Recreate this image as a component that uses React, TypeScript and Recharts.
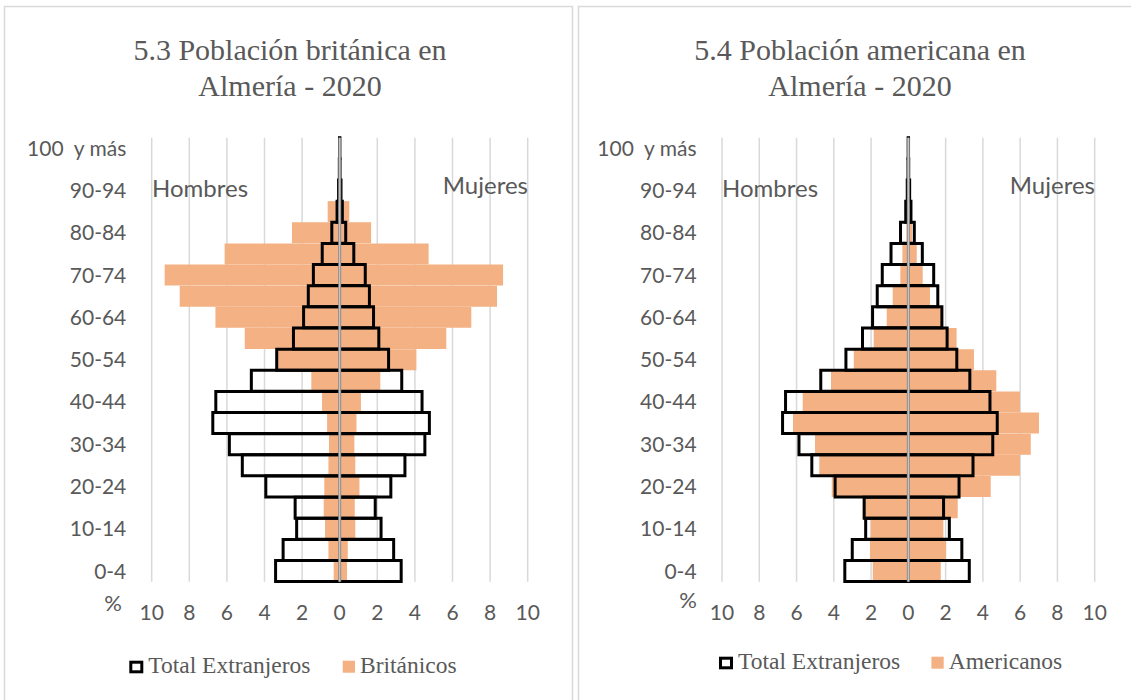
import { BarChart, Bar, XAxis, YAxis, CartesianGrid, ReferenceLine } from 'recharts';

// age groups, bottom to top
const AGES = [
  '0-4', '5-9', '10-14', '15-19', '20-24', '25-29', '30-34', '35-39', '40-44', '45-49',
  '50-54', '55-59', '60-64', '65-69', '70-74', '75-79', '80-84', '85-89', '90-94', '95-99', '100  y más',
];

// % of each population, men on the left, women on the right
const TOTAL_HOMBRES = [3.41, 3.01, 2.29, 2.37, 3.93, 5.18, 5.87, 6.75, 6.59, 4.7, 3.35, 2.46, 1.92, 1.67, 1.4, 0.93, 0.42, 0.14, 0.06, 0.02, 0.01];
const TOTAL_MUJERES = [3.27, 2.87, 2.2, 1.89, 2.72, 3.47, 4.53, 4.77, 4.38, 3.3, 2.6, 2.08, 1.8, 1.58, 1.36, 0.75, 0.32, 0.14, 0.07, 0.02, 0.01];

const BRIT_HOMBRES = [0.32, 0.6, 0.78, 0.85, 0.82, 0.6, 0.57, 0.67, 0.94, 1.51, 3.3, 5.05, 6.61, 8.51, 9.31, 6.12, 2.54, 0.64, 0.05, 0.02, 0];
const BRIT_MUJERES = [0.39, 0.43, 0.83, 0.8, 1.05, 0.83, 0.78, 0.89, 1.13, 2.16, 4.08, 5.67, 7.0, 8.37, 8.69, 4.73, 1.67, 0.51, 0.12, 0.02, 0];

const AMER_HOMBRES = [1.91, 2.06, 2.02, 2.45, 4.11, 4.78, 5.01, 6.19, 5.67, 4.15, 2.93, 1.86, 1.16, 0.84, 0.43, 0.32, 0.1, 0.02, 0, 0, 0];
const AMER_MUJERES = [1.74, 2.02, 1.88, 2.65, 4.42, 5.99, 6.57, 7.01, 5.99, 4.72, 3.52, 2.59, 1.75, 1.16, 0.77, 0.45, 0.2, 0.05, 0.02, 0, 0];

const X_TICKS = [-10, -8, -6, -4, -2, 0, 2, 4, 6, 8, 10];

const SANS = 'Lato, Carlito, Calibri, sans-serif';
const SERIF = '"Liberation Serif", "Times New Roman", serif';
const TEXT = '#595959';
const ORANGE = '#F4B183';
const GRID = '#d9d9d9';

const PLOT_TOP = 137.7;
const PLOT_BOTTOM = 581.7;

function buildRows(h: number[], m: number[]) {
  return AGES.map((age, i) => ({
    age,
    total: [-TOTAL_HOMBRES[i], TOTAL_MUJERES[i]],
    nat: [-h[i], m[i]],
  }));
}

const AgeTick = ({ x, y, payload }: any) => (
  <text x={x - 23.4} y={y} dy={7.5} textAnchor="end" fontFamily={SANS} fontSize={21} fill={TEXT} style={{ whiteSpace: 'pre' }}>
    {payload.value}
  </text>
);

function Pyramid({ left, width, plotLeft, plotRight, rows }: any) {
  return (
    <div style={{ position: 'absolute', left, top: 0 }}>
      <BarChart
        width={width}
        height={700}
        data={rows}
        layout="vertical"
        barCategoryGap={0}
        barGap={0}
        margin={{ top: PLOT_TOP, right: width - plotRight, bottom: 700 - PLOT_BOTTOM - 30, left: 0 }}
      >
        <CartesianGrid yAxisId="total" horizontal={false} stroke={GRID} strokeWidth={1.5} />
        <XAxis
          type="number"
          domain={[-10, 10]}
          ticks={X_TICKS}
          tickFormatter={(v: number) => String(Math.abs(v))}
          axisLine={false}
          tickLine={false}
          tickSize={0}
          tickMargin={23.4}
          height={30}
          tick={{ fontFamily: SANS, fontSize: 21, fill: TEXT }}
        />
        <YAxis
          yAxisId="nat"
          type="category"
          dataKey="age"
          reversed
          width={plotLeft}
          axisLine={false}
          tickLine={false}
          tickSize={0}
          interval={1}
          tick={<AgeTick />}
        />
        <YAxis yAxisId="total" type="category" dataKey="age" reversed hide />
        <Bar yAxisId="nat" dataKey="nat" fill={ORANGE} isAnimationActive={false} />
        <Bar yAxisId="total" dataKey="total" fill="none" stroke="#000" strokeWidth={3} isAnimationActive={false} />
        <ReferenceLine yAxisId="total" x={0} stroke="#8c8c8c" strokeWidth={3} />
        <ReferenceLine yAxisId="total" x={0} stroke="#cfcfcf" strokeWidth={1} />
      </BarChart>
    </div>
  );
}

function Overlay() {
  const t = { fontFamily: SERIF, fill: TEXT };
  const s = { fontFamily: SANS, fill: TEXT };
  return (
    <svg width={1131} height={700} style={{ position: 'absolute', left: 0, top: 0, pointerEvents: 'none' }}>
      <rect x={4.5} y={6.5} width={568} height={720} fill="none" stroke={GRID} strokeWidth={1.5} />
      <rect x={578.5} y={6.5} width={580} height={720} fill="none" stroke={GRID} strokeWidth={1.5} />

      <text {...t} x={290} y={60} fontSize={30} textAnchor="middle">5.3 Población británica en</text>
      <text {...t} x={290} y={96} fontSize={30} textAnchor="middle">Almería - 2020</text>
      <text {...t} x={860} y={60} fontSize={30} textAnchor="middle">5.4 Población americana en</text>
      <text {...t} x={860} y={96} fontSize={30} textAnchor="middle">Almería - 2020</text>

      <text {...s} x={152} y={197} fontSize={24}>Hombres</text>
      <text {...s} x={528} y={194} fontSize={24} textAnchor="end">Mujeres</text>
      <text {...s} x={722} y={197} fontSize={24}>Hombres</text>
      <text {...s} x={1095} y={194} fontSize={24} textAnchor="end">Mujeres</text>

      <text {...s} x={113} y={611} fontSize={22} textAnchor="middle">%</text>
      <text {...s} x={688} y={608} fontSize={22} textAnchor="middle">%</text>

      <rect x={130.8} y={662.2} width={11} height={9.6} fill="#fff" stroke="#000" strokeWidth={3} />
      <text {...t} x={148.3} y={673.3} fontSize={23.5}>Total Extranjeros</text>
      <rect x={342.7} y={660.7} width={12.3} height={12} fill={ORANGE} />
      <text {...t} x={360} y={673.3} fontSize={23.5}>Británicos</text>

      <rect x={720.5} y={658.2} width={11} height={9.6} fill="#fff" stroke="#000" strokeWidth={3} />
      <text {...t} x={738} y={669.3} fontSize={23.5}>Total Extranjeros</text>
      <rect x={931.4} y={656.7} width={12.3} height={12} fill={ORANGE} />
      <text {...t} x={948.7} y={669.3} fontSize={23.5}>Americanos</text>
    </svg>
  );
}

export default function App() {
  return (
    <div style={{ position: 'absolute', left: 0, top: 0, width: 1131, height: 700, background: '#fff', overflow: 'hidden' }}>
      <Pyramid left={0} width={570} plotLeft={151.7} plotRight={527.7} rows={buildRows(BRIT_HOMBRES, BRIT_MUJERES)} />
      <Pyramid left={570} width={561} plotLeft={152} plotRight={524.7} rows={buildRows(AMER_HOMBRES, AMER_MUJERES)} />
      <Overlay />
    </div>
  );
}
